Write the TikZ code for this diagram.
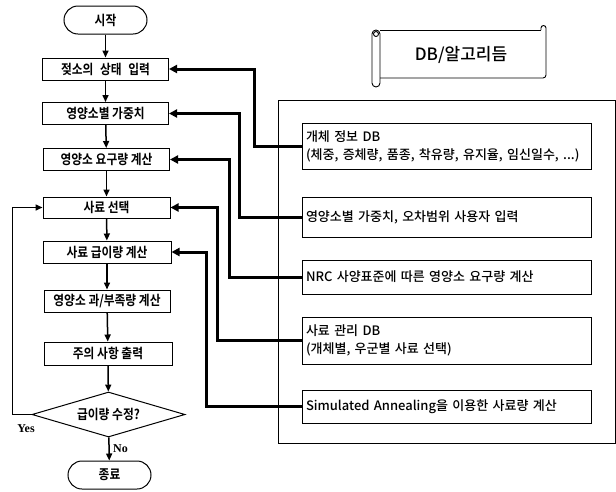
\documentclass[tikz,border=0pt]{standalone}
\usepackage{fontspec}
\newfontfamily\krfont{Noto Sans CJK KR}[BoldFont={Noto Sans CJK KR Bold}]
\newfontfamily\krnarrow{Noto Sans CJK KR Bold}[FakeStretch=0.87]
\newfontfamily\krmedium{Noto Sans CJK KR Medium}
\newfontfamily\yesfont{Liberation Serif}
\usetikzlibrary{shapes.geometric,arrows.meta,positioning}

\begin{document}
\begin{tikzpicture}[x=1pt,y=-1pt,
	procbox/.style={draw, line width=1pt, minimum width=126pt, minimum height=22pt, inner sep=0pt, font=\krnarrow\fontsize{13.5}{15}\selectfont},
	termbox/.style={procbox, rounded corners=14pt, minimum width=83pt, minimum height=28pt},
	decision/.style={procbox, diamond, aspect=3.4, minimum width=153pt, minimum height=45pt},
	dbbox/.style={draw, line width=0.9pt, minimum width=289pt, text width=281pt, inner sep=4pt, align=left, font=\krmedium\fontsize{13}{18}\selectfont},
	flow/.style={line width=1.5pt, -{Triangle[length=7pt,width=6pt]}},
	link/.style={line width=3pt, -{Triangle[length=8pt,width=8pt]}}]
	
	\useasboundingbox (0,0) rectangle (616,491);
	
	%%%%% Flowchart %%%%%%
	\node[termbox] (nodeStart) at (105.5,20){시작};
	\node[procbox] (nodeInput) at (105.5,69){젖소의\hspace{4pt} 상태\hspace{4pt} 입력};
	\node[procbox] (nodeWeight) at (105.5,113.5){영양소별 가중치};
	\node[procbox] (nodeReq) at (106.5,159.5){영양소 요구량 계산};
	\node[procbox, minimum width=127pt, minimum height=21pt] (nodeSelect) at (106.5,207.5){사료 선택};
	\node[procbox, minimum width=128pt] (nodeAmount) at (107,252){사료 급이량 계산};
	\node[procbox] (nodeBalance) at (107,301){영양소 과/부족량 계산};
	\node[procbox, minimum width=128pt, minimum height=23pt] (nodeWarn) at (108,353.5){주의 사항 출력};
	\node[decision] (nodeEdit) at (108.5,414.5){급이량 수정?};
	\node[termbox] (nodeEnd) at (109.5,475){종료};
	
	\draw[flow] (nodeStart)--(nodeInput);
	\draw[flow] (nodeInput)--(nodeWeight);
	\draw[flow] (nodeWeight)--(nodeReq);
	\draw[flow] (nodeReq)--(nodeSelect);
	\draw[flow] (nodeSelect)--(nodeAmount);
	\draw[flow] (nodeAmount)--(nodeBalance);
	\draw[flow] (nodeBalance)--(nodeWarn);
	\draw[flow] (nodeWarn)--(nodeEdit);
	\draw[flow] (nodeEdit)--(nodeEnd)node[midway,right,font=\yesfont\bfseries\fontsize{12}{14}\selectfont]{No};
	\draw[flow] (nodeEdit.west)--++(-19,0)|-(nodeSelect.west);
	\node[font=\yesfont\bfseries\fontsize{12}{14}\selectfont] (nodeYes) at (26,429){Yes};
	
	%%%%% DB / algorithm %%%%%%
	\draw[line width=0.9pt, rounded corners=4pt] (372,30) rectangle (380,87);
	\draw[line width=0.9pt] (376,34) circle (2.5pt);
	\draw[line width=0.9pt, rounded corners=3pt] (380,30)--(541,30);
	\draw[line width=0.9pt] (541,30)--(541,28) arc[start angle=180,end angle=0,radius=2.5pt];
	\draw[line width=0.9pt, rounded corners=3pt] (546,28)--(546,78)--(380,78);
	\node[font=\krmedium\fontsize{17}{19}\selectfont] (nodeBanner) at (461,55){DB/알고리듬};
	
	\draw[line width=0.9pt] (278,100) rectangle (615,443);
	\node[dbbox, minimum height=46pt] (nodeInfo) at (446.5,146){개체 정보 DB\\(체중, 증체량, 품종, 착유량, 유지율, 임신일수, ...)};
	\node[dbbox, minimum height=40pt] (nodeUser) at (446.5,217){영양소별 가중치, 오차범위 사용자 입력};
	\node[dbbox, minimum height=34pt] (nodeNRC) at (446.5,277){NRC 사양표준에 따른 영양소 요구량 계산};
	\node[dbbox, minimum height=47pt] (nodeFeed) at (446.5,340.5){사료 관리 DB\\(개체별, 우군별 사료 선택)};
	\node[dbbox, minimum height=33pt] (nodeSA) at (446.5,406.5){Simulated Annealing을 이용한 사료량 계산};
	
	%%%%% Arrows %%%%%%
	\draw[link] (nodeInfo.west)--++(-47,0)|-(nodeInput.east);
	\draw[link] (nodeUser.west)--++(-62,0)|-(nodeWeight.east);
	\draw[link] (nodeNRC.west)--++(-72,0)|-(nodeReq.east);
	\draw[link] (nodeFeed.west)--++(-84,0)|-(nodeSelect.east);
	\draw[link] (nodeSA.west)--++(-95,0)|-(nodeAmount.east);
	
\end{tikzpicture}
\end{document}
